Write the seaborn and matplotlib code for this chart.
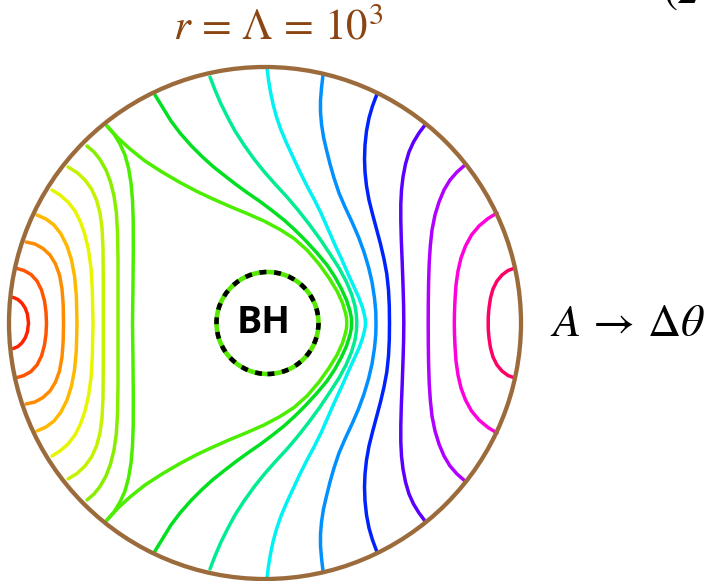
import matplotlib
matplotlib.use("Agg")
import matplotlib.pyplot as plt
from matplotlib.patches import Circle
import seaborn as sns

# Field lines A = const, upper half (y >= 0), in coordinates centred on the
# black hole; every line is symmetric about the equator y = 0.
red_line = [(-251.8, 25.6), (-247.2, 23.6), (-243.1, 19.9), (-239.8, 14.9),
            (-237.6, 8.9), (-236.5, 0)]
orange_red_line = [(-248, 54.5), (-241, 52.5), (-234, 48.5), (-228, 42), (-223.5, 33),
                   (-220.5, 22), (-219, 11), (-218.5, 0)]
orange_line = [(-239, 81), (-230, 79), (-222, 74.5), (-215, 68), (-209.5, 59),
               (-205.5, 48), (-203, 34), (-201.8, 18), (-201.5, 0)]
gold_line = [(-228, 108), (-219, 104), (-211, 98), (-204, 89), (-198, 77), (-193.5, 63),
             (-190.5, 47), (-188.7, 28), (-188, 0)]
yellow_line = [(-213, 133), (-205, 128), (-197, 121), (-190, 112), (-184.5, 101),
               (-180, 88), (-176.5, 73), (-174, 55), (-172.7, 33), (-172, 0)]
yellow_green_line = [(-197, 156), (-188, 150.5), (-180, 143), (-173.5, 134),
                     (-168.5, 123), (-165, 110), (-163, 95), (-162, 75), (-161.7, 43),
                     (-161.7, 0)]
chartreuse_line = [(-178, 177), (-171, 171), (-165, 163.5), (-159, 153), (-154.5, 141),
                   (-151, 127), (-148.7, 111), (-147.5, 91), (-147, 63), (-147, 33),
                   (-147, 0)]
lime_left_line = [(-158, 197), (-151, 189), (-145, 179), (-140, 168), (-136.5, 155),
                  (-134, 140), (-132.5, 123), (-131.8, 103), (-131.7, 73), (-132, 38),
                  (-132.5, 0)]
lime_wrap_line = [(-158, 197), (-147, 185), (-135, 174), (-120, 162), (-103, 151),
                  (-85, 140.5), (-68, 131.5), (-52, 124), (-35, 116.5), (-18, 109.5),
                  (-1, 102), (15, 93.5), (29, 84.5), (42, 73), (54, 59), (64, 45),
                  (72, 32), (77.5, 20), (80.5, 10), (81.5, 5), (81.8, 0)]
green_line = [(-110, 228), (-102, 215), (-94, 202), (-85, 190), (-74, 177.5),
              (-63, 166.5), (-52, 156.5), (-40, 147), (-29, 138.5), (-18, 130.5),
              (-5, 121.5), (7, 112.5), (19, 103), (30, 93), (41, 82), (52, 70), (62, 58),
              (70, 46), (76.5, 34), (81.5, 23), (85, 12), (86.4, 5), (86.7, 0)]
spring_line = [(-55, 246), (-50, 233), (-44, 219), (-37, 205), (-30, 192), (-21, 178),
               (-11, 164), (-1, 151.5), (10, 139), (22, 126), (33, 113), (44, 99),
               (55, 84), (65, 69), (74, 55), (81, 42), (86.5, 29), (90, 17), (91.4, 8),
               (91.8, 0)]
cyan_line = [(2, 255), (3.5, 243), (5.5, 231), (8, 219), (11.5, 206), (16, 193),
             (21.5, 180), (28, 166), (35, 151), (42, 137), (49, 124), (56, 110), (63, 94),
             (70, 78), (77, 63), (84, 47), (89.5, 35), (94, 25), (97.3, 16), (99.2, 9),
             (100.2, 4), (100.5, 0)]
azure_line = [(58, 248), (56.5, 235), (55.5, 223), (55.5, 211), (56.5, 199), (58.5, 186),
              (61.5, 173), (65, 159), (69, 145), (74, 130), (80, 116), (87, 101),
              (93.5, 86), (99, 71), (103.5, 56), (107, 41), (109.5, 25), (110.8, 11),
              (111, 0)]
blue_line = [(112, 229), (107.5, 217), (104, 205), (101.5, 192), (100, 178), (99.5, 164),
             (100, 151), (101.5, 137), (104, 123), (107.5, 109), (111.5, 94), (115.5, 79),
             (119, 64), (121.8, 49), (123.5, 33), (124.3, 17), (124.5, 0)]
indigo_line = [(160, 198), (154, 190), (148.5, 181), (144, 171), (140.5, 159), (138, 146),
               (136.5, 133), (135.8, 119), (135.8, 103), (136.3, 83), (137.2, 61),
               (138, 38), (138.6, 18), (138.8, 0)]
violet_line = [(200, 158), (192, 151), (185, 143), (179, 133), (174, 121), (170, 108),
               (167, 93), (165.3, 77), (164.2, 60), (163.6, 41), (163.3, 21), (163.2, 0)]
magenta_line = [(232, 110), (223, 104.5), (214, 97), (206.5, 88), (200.5, 77), (196, 65),
                (193, 52), (191, 38), (190, 23), (189.5, 11), (189.3, 0)]
rose_line = [(250, 55), (243, 52.5), (237, 48), (232, 42), (228, 34), (225.5, 25),
             (224, 15), (223.3, 7), (223.2, 0)]

field_lines = [red_line, orange_red_line, orange_line, gold_line, yellow_line,
               yellow_green_line, chartreuse_line, lime_left_line, lime_wrap_line,
               green_line, spring_line, cyan_line, azure_line, blue_line,
               indigo_line, violet_line, magenta_line, rose_line]
line_colors = ["#ff2200", "#ff5500", "#ff8c00", "#ffb800", "#e8f500", "#c4f200",
               "#88ee00", "#4cee00", "#4cee00", "#00e020", "#00ec90", "#00f2f2",
               "#0090ff", "#0022ff", "#5a00ff", "#b000ff", "#ff00dd", "#ff0066"]

R_OUTER = 256          # r = Lambda
BH_CENTER = (2.5, 0)
BH_RADIUS = 51

TITLE = r"$r\,=\,\Lambda\,=\,10^3$"
SIDE_LABEL = r"$A\,\rightarrow\,\Delta\theta$"

sns.set_theme(style="white")
plt.rcParams["mathtext.fontset"] = "stix"

fig = plt.figure(figsize=(7.04, 5.81), dpi=100)
ax = fig.add_axes([0, 0, 1, 1])
ax.set_xlim(-265, 439)
ax.set_ylim(-258, 323)
ax.set_aspect("equal")
ax.axis("off")

for pts, col in zip(field_lines, line_colors):
    full = pts + [(x, -y) for (x, y) in reversed(pts[:-1])]
    xs = [p[0] for p in full]
    ys = [p[1] for p in full]
    sns.lineplot(x=xs, y=ys, sort=False, estimator=None, color=col, linewidth=2.5,
                 solid_joinstyle="round", solid_capstyle="round", ax=ax, zorder=2)

ax.add_patch(Circle((0, 0), R_OUTER, fill=False, ec="#9c6b3c", lw=3.1, zorder=3))

# black hole horizon: lime ring with black dashes
ax.add_patch(Circle(BH_CENTER, BH_RADIUS, fc="white", ec="#55e800", lw=3.3, zorder=4))
ax.add_patch(Circle(BH_CENTER, BH_RADIUS, fill=False, ec="black", lw=3.3,
                    ls=(0, (1.5, 1.7)), zorder=5))
ax.text(BH_CENTER[0] - 4, 0, "BH", fontsize=27, fontweight="bold", family="Open Sans",
        ha="center", va="center", color="black", zorder=6)

ax.text(13, 295, TITLE, fontsize=31, color="#8b4513", ha="center", va="center")
ax.text(285, 0, SIDE_LABEL, fontsize=33, color="black", ha="left", va="center")
fig.text(663 / 704, 1 - 3 / 581, r"$(2$", fontsize=30, color="black",
         ha="left", va="baseline")

fig.savefig("out.png", dpi=100)
